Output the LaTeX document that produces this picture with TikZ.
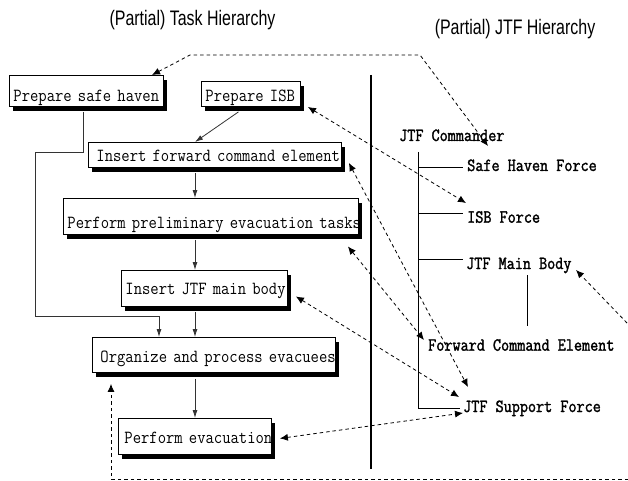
\documentclass[tikz,border=0pt]{standalone}
\usepackage{fontspec}
\setmainfont{Liberation Sans}
\newfontfamily\boxfont[FakeStretch=0.875]{Latin Modern Mono}
\newfontfamily\forcefont[FakeBold=1.6,FakeStretch=0.85]{Latin Modern Mono}
\newfontfamily\titlefont[FakeStretch=0.76]{Liberation Sans}
\newcommand{\boxtext}[3]{\raisebox{-#2pt}[0pt][0pt]{\hspace*{#1pt}#3}}
\usetikzlibrary{arrows.meta,shadows,calc}
\tikzset{
  taskbox/.style={draw=black,fill=white,line width=0.9pt,anchor=north west,inner sep=0pt,align=left,
    font=\boxfont\fontsize{18.5}{19}\selectfont,
    general shadow={shadow xshift=3.5pt,shadow yshift=-5pt,fill=black}},
  forcelabel/.style={anchor=base west,inner sep=0pt,font=\forcefont\fontsize{18.5}{19}\selectfont},
  titlelabel/.style={anchor=center,inner sep=0pt,font=\titlefont\fontsize{21}{23}\selectfont},
  flow/.style={draw=black!80,line width=0.8pt,-{Latex[length=8pt,width=5pt]}},
  tree/.style={draw=black,line width=0.7pt},
  link/.style={draw=black,line width=0.8pt,dash pattern=on 3.5pt off 3pt},
  linkhead/.style={{Latex[length=8pt,width=7pt]}-{Latex[length=8pt,width=7pt]}},
  linktip/.style={-{Latex[length=8pt,width=7pt]}}
}
\begin{document}
\begin{tikzpicture}[x=1pt,y=-1pt]
\path[use as bounding box,fill=white] (0,0) rectangle (628,481);
\node[titlelabel] (t1) at (192.5,20) {(Partial) Task Hierarchy};
\node[titlelabel] (t2) at (515,29) {(Partial) JTF Hierarchy};
% task boxes
\node[taskbox,text width=154pt,minimum height=31pt] (safe) at (9,75) {\boxtext{4}{10.2}{Prepare safe haven}};
\node[taskbox,text width=99pt,minimum height=25pt] (isb) at (201,81) {\boxtext{4}{7.2}{Prepare ISB}};
\node[taskbox,text width=253pt,minimum height=25pt] (fwd) at (88,142) {\boxtext{8}{6.5}{Insert forward command element}};
\node[taskbox,text width=295pt,minimum height=36pt] (pre) at (63,198) {\boxtext{4}{12}{Perform preliminary evacuation tasks}};
\node[taskbox,text width=166pt,minimum height=36pt] (ins) at (121,270) {\boxtext{4}{6}{Insert JTF main body}};
\node[taskbox,text width=243pt,minimum height=35pt] (org) at (92,337) {\boxtext{8}{7.5}{Organize and process evacuees}};
\node[taskbox,text width=153pt,minimum height=36pt] (eva) at (118,418) {\boxtext{6}{7}{Perform evacuation}};
% divider
\coordinate (divtop) at (371,75);
\coordinate (divbot) at (371,469);
\draw[line width=2pt] (divtop) -- (divbot);
% force labels
\node[forcelabel] (cmd) at (399,141) {JTF Commander};
\node[forcelabel] (shf) at (467,171) {Safe Haven Force};
\node[forcelabel] (isf) at (467,222.7) {ISB Force};
\node[forcelabel] (mbf) at (466,269) {JTF Main Body};
\node[forcelabel] (fce) at (428,350.7) {Forward Command Element};
\node[forcelabel] (sup) at (463,412) {JTF Support Force};
% tree
\coordinate (treetop) at (418,152);
\coordinate (treebot) at (418,408);
\draw[tree] (treetop) -- (treebot) -- (460,408);
\draw[tree] (418,167) -- ($(shf.base west)+(-4,-4)$);
\draw[tree] (418,213) -- ($(isf.base west)+(-4,-9.7)$);
\draw[tree] (418,259) -- ($(mbf.base west)+(-3,-10)$);
\draw[tree] ($(mbf.base west)+(61,6)$) -- ($(fce.base west)+(99,-24.7)$);
% flow
\draw[flow] ($(isb.south)+(-12.5,5)$) -- (195,142);
\draw[flow] ($(fwd.south west)+(107,5)$) -- ($(pre.north west)+(132,0)$);
\draw[flow] ($(pre.south west)+(132,5)$) -- ($(ins.north west)+(74,0)$);
\draw[flow] ($(ins.south west)+(74,5)$) -- ($(org.north west)+(103,0)$);
\draw[flow] ($(org.south west)+(103,6)$) -- ($(eva.north west)+(77,0)$);
\draw[flow] ($(safe.south west)+(74,5)$) -- (83,152) -- (35,152) -- (35,316) -- (159,316) -- ($(org.north west)+(67,0)$);
% dashed links
\coordinate (bendb) at (190,55);
\coordinate (bend) at (420,55);
\draw[link,linkhead] ($(safe.north west)+(143,0)$) -- (bendb) -- (bend) -- ($(cmd.base west)+(89,5)$);
\draw[link,linkhead] ($(isb.east)+(7,13)$) -- ($(isf.base west)+(-1,-19.7)$);
\draw[link,linkhead] ($(fwd.east)+(7,8)$) -- ($(sup.base west)+(5,-25)$);
\draw[link,linkhead] ($(pre.east)+(-11,30)$) -- ($(fce.base west)+(-4,-10.7)$);
\draw[link,linkhead] ($(ins.east)+(8,8)$) -- ($(sup.base west)+(-4,-15)$);
\draw[link,linkhead] ($(eva.east)+(8,2)$) -- ($(sup.base west)+(0,1)$);
\coordinate (mbfree) at (627,323);
\draw[link,linktip] (mbfree) -- ($(mbf.base west)+(110,1)$);
\coordinate (botright) at (628,479);
\coordinate (botleft) at (111,479);
\draw[link,linktip] (botright) -- (botleft) -- ($(org.south west)+(19,11)$);
\end{tikzpicture}
\end{document}
